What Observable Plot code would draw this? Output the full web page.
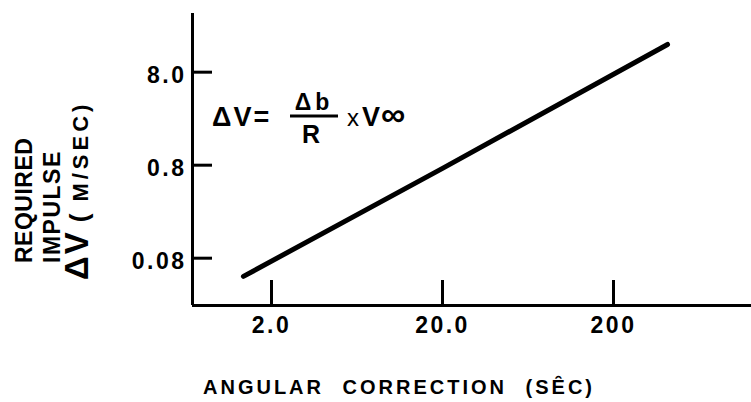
<!DOCTYPE html>
<html>
<head>
<meta charset="utf-8">
<script src="https://cdn.jsdelivr.net/npm/d3@7"></script>
<script src="https://cdn.jsdelivr.net/npm/@observablehq/plot@0.6"></script>
<style>
  html, body { margin: 0; padding: 0; background: #fff; }
  #chart svg { display: block; }
  #chart .ticklabel text { letter-spacing: 2.5px; }
</style>
</head>
<body>
<div id="chart"></div>
<script>
// Required impulse versus angular correction (log–log)
const angle = [1.37, 20, 414];          // angular correction, sec
const impulse = [0.051, 0.74, 15.9];    // required ΔV, m/sec

const xTicks = [2, 20, 200];
const xTickLabels = ["2.0", "20.0", "200"];
const yTicks = [0.08, 0.8, 8];
const yTickLabels = ["0.08", "0.8", "8.0"];

const xDomain = [0.69, 1283];
const yDomain = [0.0248, 34.2];

const W = 751, H = 402;
const mLeft = 192, mTop = 13, mRight = 0, mBottom = 97;
const font = "'Liberation Sans', Arial, sans-serif";

const data = angle.map((a, i) => ({angle: a, impulse: impulse[i]}));

const svg = Plot.plot({
  width: W,
  height: H,
  marginLeft: mLeft,
  marginTop: mTop,
  marginRight: mRight,
  marginBottom: mBottom,
  style: {fontFamily: font, background: "#fff", color: "#000"},
  x: {type: "log", domain: xDomain},
  y: {type: "log", domain: yDomain},
  marks: [
    // axis lines
    Plot.ruleX([xDomain[0]], {strokeWidth: 3}),
    Plot.ruleY([yDomain[0]], {strokeWidth: 3}),
    // inward tick marks
    Plot.axisX({ticks: xTicks, tickSize: 25, dy: -25, tickFormat: () => "", strokeWidth: 3, label: null}),
    Plot.axisY({ticks: yTicks, tickSize: 20, dx: 20, tickFormat: () => "", strokeWidth: 3, label: null}),
    // tick labels
    Plot.text(xTicks, {
      x: d => d, text: (d, i) => xTickLabels[i],
      frameAnchor: "bottom", lineAnchor: "top", dy: 11,
      fontSize: 23, fontWeight: "bold", className: "ticklabel"
    }),
    Plot.text(yTicks, {
      y: d => d, text: (d, i) => yTickLabels[i],
      frameAnchor: "left", textAnchor: "end", dx: -6, dy: 3,
      fontSize: 23, fontWeight: "bold", className: "ticklabel"
    }),
    // the relation ΔV ∝ angular correction
    Plot.line(data, {x: "angle", y: "impulse", stroke: "#000", strokeWidth: 5, strokeLinecap: "round"})
  ]
});

const root = d3.select(svg);

// formula: ΔV = Δb / R × V∞
const eq = root.append("g")
  .attr("font-family", font)
  .attr("font-weight", "bold")
  .attr("text-anchor", "start")
  .attr("fill", "#000");
eq.append("text").attr("x", 212).attr("y", 126).attr("font-size", 27)
  .attr("letter-spacing", 2).text("ΔV=");
eq.append("text").attr("x", 314).attr("y", 110).attr("font-size", 23)
  .attr("text-anchor", "middle").attr("letter-spacing", 4).text("Δb");
eq.append("line").attr("x1", 290).attr("x2", 338).attr("y1", 116).attr("y2", 116)
  .attr("stroke", "#000").attr("stroke-width", 3);
eq.append("text").attr("x", 311).attr("y", 143).attr("font-size", 25)
  .attr("text-anchor", "middle").text("R");
eq.append("text").attr("x", 347).attr("y", 126).attr("font-size", 24)
  .attr("font-weight", "normal").text("x");
const vinf = eq.append("text").attr("x", 362).attr("y", 126);
vinf.append("tspan").attr("font-size", 27).text("V");
vinf.append("tspan").attr("font-size", 34).attr("dx", 1).text("∞");

// y-axis title (three rotated lines)
const yt = root.append("g")
  .attr("font-family", font)
  .attr("font-weight", "bold")
  .attr("text-anchor", "start")
  .attr("fill", "#000");
yt.append("text")
  .attr("transform", "translate(24,263) rotate(-90)")
  .attr("dy", "0.36em").attr("font-size", 23).attr("letter-spacing", 0.5)
  .text("REQUIRED");
yt.append("text")
  .attr("transform", "translate(52,263) rotate(-90)")
  .attr("dy", "0.36em").attr("font-size", 23).attr("letter-spacing", 1.5)
  .text("IMPULSE");
const dv = yt.append("text")
  .attr("transform", "translate(84,280) rotate(-90)")
  .attr("dy", "0.36em");
dv.append("tspan").attr("font-size", 33).attr("letter-spacing", 2).text("ΔV");
dv.append("tspan").attr("font-size", 26).attr("dx", 8).text("(");
dv.append("tspan").attr("font-size", 22).attr("dx", 12).attr("letter-spacing", 4).text("M/SEC)");

// x-axis title
root.append("text")
  .attr("x", 203).attr("y", 394)
  .attr("text-anchor", "start")
  .attr("font-family", font).attr("font-weight", "bold").attr("font-size", 20)
  .attr("letter-spacing", 3).attr("word-spacing", 10)
  .attr("fill", "#000")
  .text("ANGULAR CORRECTION (SȆC)");

document.getElementById("chart").append(svg);
</script>
</body>
</html>
